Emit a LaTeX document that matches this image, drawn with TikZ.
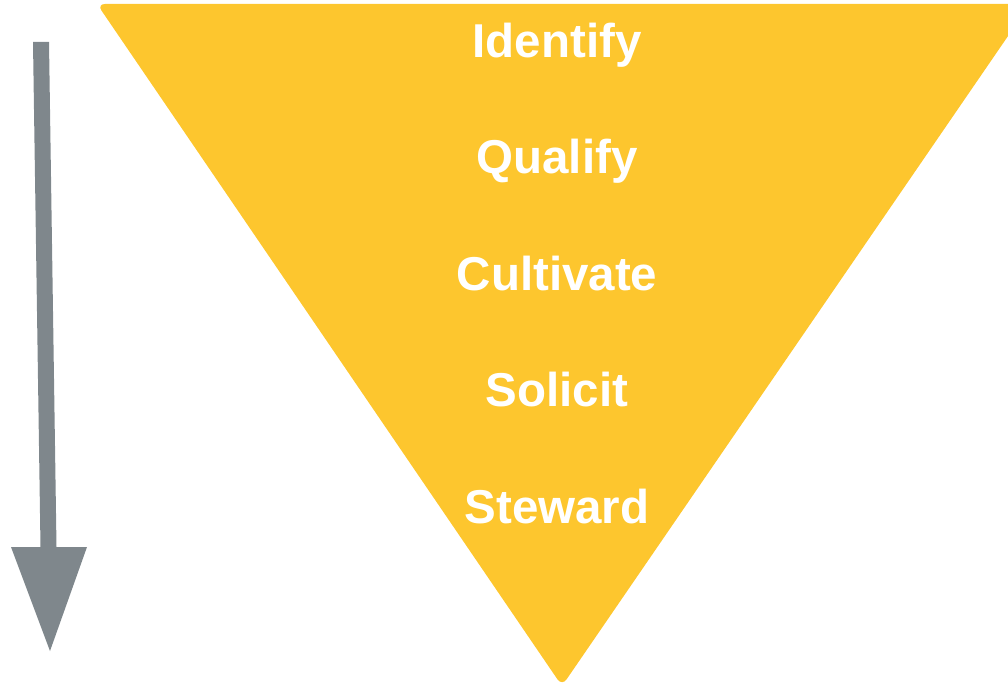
\documentclass[tikz,border=0pt]{standalone}
\usepackage{fontspec}
\setmainfont{Liberation Sans}
\definecolor{funnel}{RGB}{253,198,46}
\definecolor{arrowgray}{RGB}{127,135,140}
\tikzset{stage/.style={anchor=base,text=white,font=\fontsize{47.5}{48}\selectfont\bfseries,inner sep=0pt}}
\begin{document}
\begin{tikzpicture}[x=1pt,y=-1pt]
\useasboundingbox (0,0) rectangle (1008,687);
\clip (0,0) rectangle (1008,687);
% funnel
\fill[funnel,rounded corners=8pt] (97,4) -- (1030,4) -- (562,686) -- cycle;
% arrow
\fill[arrowgray] (33,42) -- (49,42) -- (56.5,547) -- (87,547) -- (50,651) -- (11,547) -- (40.5,547) -- cycle;
% labels
\node[stage] (identify) at (557,58) {Identify};
\node[stage] (qualify) at (557,174) {Qualify};
\node[stage] (cultivate) at (557,290) {Cultivate};
\node[stage] (solicit) at (557,406) {Solicit};
\node[stage] (steward) at (557,523) {Steward};
\end{tikzpicture}
\end{document}
